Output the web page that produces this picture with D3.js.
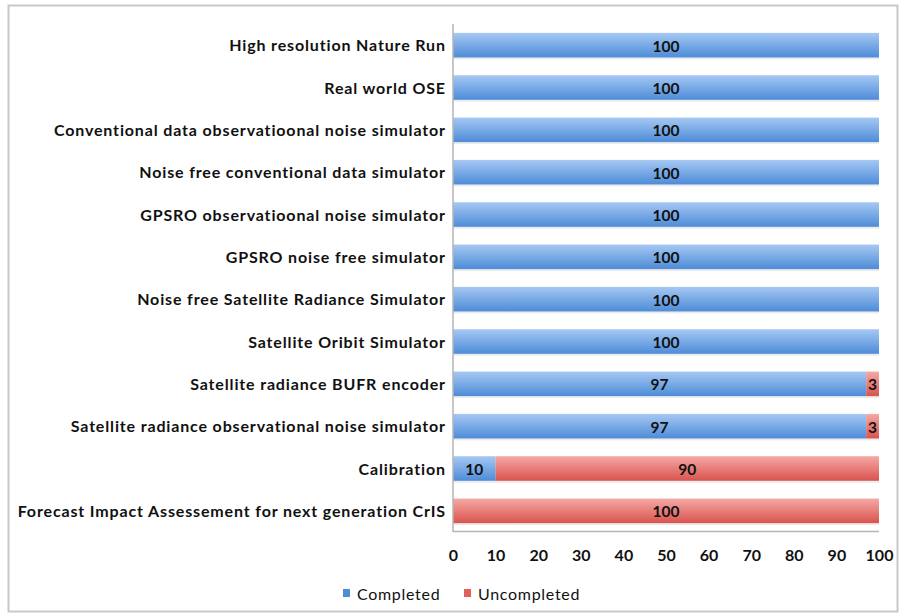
<!DOCTYPE html>
<html><head><meta charset="utf-8">
<script src="https://cdn.jsdelivr.net/npm/d3@7"></script>
<style>body{margin:0;background:#fff}svg{display:block}text{font-family:Lato,"Open Sans",sans-serif}</style>
</head><body>
<svg id="c" width="900" height="615"></svg>
<script>
const categories = [
  "High resolution Nature Run",
  "Real world OSE",
  "Conventional data observatioonal noise simulator",
  "Noise free conventional data simulator ",
  "GPSRO observatioonal noise simulator",
  "GPSRO noise free simulator ",
  "Noise free Satellite Radiance Simulator",
  "Satellite Oribit Simulator",
  "Satellite radiance BUFR encoder",
  "Satellite radiance observational noise simulator",
  "Calibration",
  "Forecast Impact Assessement for next generation CrIS"
];
const completed =   [100,100,100,100,100,100,100,100,97,97,10,0];
const uncompleted = [0,0,0,0,0,0,0,0,3,3,90,100];
const seriesNames = ["Completed","Uncompleted"];
const xTicks = [0,10,20,30,40,50,60,70,80,90,100];

const svg = d3.select("#c");
const defs = svg.append("defs");
function grad(id, top, bot){
  const g = defs.append("linearGradient").attr("id",id).attr("x1",0).attr("y1",0).attr("x2",0).attr("y2",1);
  g.append("stop").attr("offset","0%").attr("stop-color",top);
  g.append("stop").attr("offset","100%").attr("stop-color",bot);
}
grad("gBlue","#a6c8f3","#4d8cd8");
grad("gRed","#f5a9a6","#d9534e");

// outer frame
svg.append("rect").attr("x",8.5).attr("y",5.5).attr("width",889).attr("height",606)
  .attr("fill","none").attr("stroke","#c8c8c8").attr("stroke-width",2);

const x = d3.scaleLinear().domain([0,100]).range([453,879]);
const y = d3.scaleBand().domain(categories).range([24,532]).paddingInner(0.42).paddingOuter(0.21);

const data = categories.map((c,i)=>({c, a:completed[i], b:uncompleted[i]}));

// shadows
svg.append("g").selectAll("rect").data(data).join("rect")
  .attr("x",x(0)).attr("y",d=>y(d.c)+2).attr("width",d=>x(d.a+d.b)-x(0)).attr("height",y.bandwidth())
  .attr("fill","#000").attr("opacity",0.08);

const g = svg.append("g");
g.selectAll("rect.a").data(data.filter(d=>d.a>0)).join("rect").attr("class","a")
  .attr("x",x(0)).attr("y",d=>y(d.c)).attr("width",d=>x(d.a)-x(0)).attr("height",y.bandwidth())
  .attr("fill","url(#gBlue)");
g.selectAll("rect.b").data(data.filter(d=>d.b>0)).join("rect").attr("class","b")
  .attr("x",d=>x(d.a)).attr("y",d=>y(d.c)).attr("width",d=>x(d.a+d.b)-x(d.a)).attr("height",y.bandwidth())
  .attr("fill","url(#gRed)");

// value labels
const lab = svg.append("g").attr("font-size",15.5).attr("font-weight","bold").attr("fill","#111").attr("text-anchor","middle");
data.filter(d=>d.a>0).forEach(d=>{
  lab.append("text").attr("x",(x(0)+x(d.a))/2).attr("y",y(d.c)+y.bandwidth()/2+1).attr("dy","0.36em").text(d.a);
});
data.filter(d=>d.b>0).forEach(d=>{
  lab.append("text").attr("x",(x(d.a)+x(d.a+d.b))/2).attr("y",y(d.c)+y.bandwidth()/2+1).attr("dy","0.36em").text(d.b);
});

// axes lines
svg.append("line").attr("x1",453).attr("x2",453).attr("y1",24).attr("y2",532).attr("stroke","#b5b5b5").attr("stroke-width",1.5);
svg.append("line").attr("x1",453).attr("x2",879).attr("y1",531.5).attr("y2",531.5).attr("stroke","#b5b5b5").attr("stroke-width",1.5);

// category labels
const yl = d3.axisLeft(y).tickSize(0).tickPadding(0);
const ya = svg.append("g").attr("transform","translate(445,1)").call(yl);
ya.select(".domain").remove();
ya.selectAll("text").attr("font-size",16).attr("font-weight","bold").attr("fill","#111")
  .attr("font-family","Lato").attr("letter-spacing","0.85px").attr("dx","0.85");

// x tick labels
const xa = svg.append("g").attr("transform","translate(0,550)").call(d3.axisBottom(x).tickValues(xTicks).tickSize(0).tickPadding(0));
xa.select(".domain").remove();
xa.selectAll("text").attr("font-size",16).attr("font-weight","bold").attr("fill","#111").attr("font-family","Lato");

// legend
const leg = svg.append("g");
const legColors = ["#4d8cd8","#e0605b"];
const legX = [343,464];
seriesNames.forEach((n,i)=>{
  leg.append("rect").attr("x",legX[i]).attr("y",589).attr("width",7).attr("height",8).attr("fill",legColors[i]);
  leg.append("text").attr("x",legX[i]+14).attr("y",594).attr("dy","0.36em").attr("font-size",16)
    .attr("letter-spacing","0.7px").attr("fill","#111").text(n);
});
</script>
</body></html>
